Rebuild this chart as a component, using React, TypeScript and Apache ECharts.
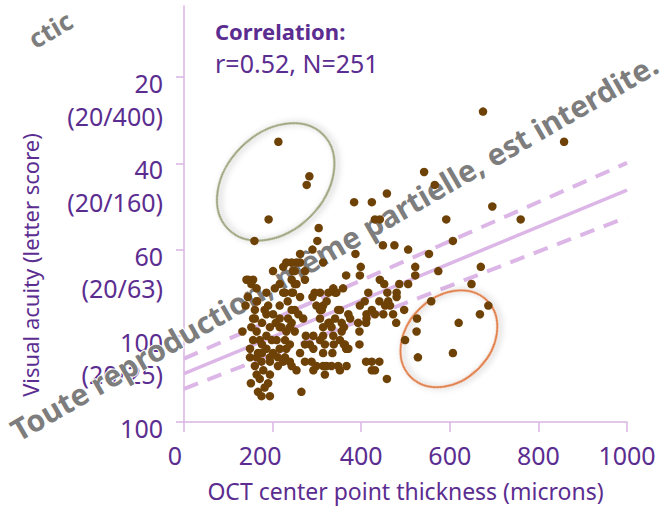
import { useEffect, useRef } from 'react';
import * as echarts from 'echarts';

// OCT center point thickness (microns), visual acuity (letter score)
const points: [number, number][] = [
  [213, 35], [283, 43], [277, 45], [191, 53], [159, 58],
  [384, 49], [424, 49], [431, 53], [442, 53], [304, 55], [301, 58], [290, 60], [262, 61], [387, 61],
  [675, 28], [542, 42], [566, 45], [458, 47], [592, 53], [607, 58], [449, 59], [475, 59], [506, 60],
  [696, 50], [858, 35], [760, 53], [553, 61], [399, 64], [366, 66], [397, 66], [522, 64], [522, 66],
  [574, 65], [670, 64], [649, 68], [442, 67], [486, 68], [506, 68], [452, 68], [459, 70], [416, 70],
  [480, 70], [480, 71], [441, 72], [461, 72], [465, 73], [397, 73], [408, 72], [424, 74], [352, 74],
  [371, 75], [375, 76], [450, 75], [454, 73], [472, 75], [497, 74], [479, 77], [411, 77], [337, 69],
  [359, 69], [341, 70], [329, 77], [356, 77], [361, 78], [396, 79], [337, 80], [338, 82], [361, 82],
  [366, 83], [396, 82], [335, 84], [411, 86], [424, 86], [441, 86], [424, 88], [352, 88], [367, 87],
  [458, 90], [333, 87],
  [558, 72], [526, 76], [525, 79], [499, 81], [620, 77], [668, 75], [687, 73], [528, 85], [607, 84],
  [314, 63], [254, 63], [262, 63], [201, 65], [224, 64], [243, 63], [250, 65], [273, 65], [243, 67],
  [250, 68], [273, 67], [205, 69], [224, 70], [243, 70], [186, 70], [156, 67], [145, 67], [164, 72],
  [160, 74], [156, 76], [182, 74], [186, 75], [216, 76], [132, 79], [152, 78], [164, 79], [156, 81],
  [171, 81], [186, 80], [198, 81], [209, 81], [216, 83], [231, 83], [239, 82], [220, 78], [231, 79],
  [149, 83], [167, 84], [186, 83], [201, 84], [212, 85], [228, 85], [239, 86], [224, 86], [194, 86],
  [175, 86], [164, 85], [160, 87], [179, 88], [164, 89], [194, 89], [190, 91], [171, 90], [167, 93],
  [194, 94], [254, 88], [243, 87], [265, 93], [288, 86], [292, 88], [314, 87], [318, 89], [348, 87],
  [431, 88], [367, 83], [412, 75], [412, 76], [431, 75], [393, 77], [348, 74], [341, 76], [344, 70],
  [326, 70], [307, 70], [295, 70], [290, 71], [299, 73], [307, 74], [322, 72], [314, 73], [356, 79],
  [352, 81], [363, 82], [371, 83], [326, 77], [314, 78], [292, 80], [307, 81], [318, 82], [275, 80],
  [273, 82], [284, 82], [258, 75], [269, 76], [235, 76], [243, 77], [250, 74], [243, 74], [250, 79],
  [216, 73], [141, 67], [152, 68], [165, 72], [190, 73], [160, 76], [175, 94], [231, 63], [246, 65],
  [254, 68], [216, 68], [228, 70], [246, 70], [216, 78], [311, 74], [307, 76], [333, 78], [314, 80],
  [292, 83], [314, 84], [322, 87], [299, 87], [176, 77], [194, 78], [207, 77], [239, 78], [176, 82],
  [194, 85], [212, 87], [149, 85], [176, 84], [228, 81], [201, 75], [144, 71], [139, 73], [182, 92],
  [151, 91], [262, 84], [273, 86], [262, 71], [234, 72], [164, 69],
];

const xTicks = [0, 200, 400, 600, 800, 1000];
const yTickValues = [20, 40, 60, 80, 100];
const yTickScores = ['20', '40', '60', '100', '100'];
const yTickSnellen = ['(20/400)', '(20/160)', '(20/63)', '(20/25)', ''];

const fitLine: [number, number][] = [[0, 88.8], [1000, 46.2]];
const ciUpper: [number, number][] = [[0, 85.3], [1000, 39.9]];
const ciLower: [number, number][] = [[0, 92.3], [1000, 52.5]];

const correlationTitle = 'Correlation:';
const correlationText = 'r=0.52, N=251';
const xAxisTitle = 'OCT center point thickness (microns)';
const yAxisTitle = 'Visual acuity (letter score)';
const watermark = 'Toute reproduction, même partielle, est interdite.';
const watermarkTop = 'ctic';

const outlierHighCenter: [number, number] = [207, 44.3];
const outlierLowCenter: [number, number] = [598, 80.7];

const PURPLE = '#5b2d90';
const AXIS = '#d9b5e3';
const LINE = '#dcb6e6';
const DOT = '#6e4206';
const GREY = '#7d7d7d';
const FONT = '"Noto Sans", sans-serif';

export default function App() {
  const ref = useRef<HTMLDivElement>(null);
  useEffect(() => {
    document.body.style.margin = '0';
    const chart = echarts.init(ref.current!, null, { renderer: 'svg' });
    chart.setOption({
      animation: false,
      backgroundColor: '#ffffff',
      grid: { left: 184, top: 6, right: 43, bottom: 84 },
      xAxis: {
        type: 'value',
        min: xTicks[0],
        max: xTicks[xTicks.length - 1],
        interval: 200,
        name: xAxisTitle,
        nameLocation: 'middle',
        nameGap: 57,
        nameTextStyle: { color: PURPLE, fontSize: 23, fontFamily: FONT },
        axisLine: { lineStyle: { color: AXIS, width: 1.5 } },
        axisTick: { show: true, length: 10, inside: false, lineStyle: { color: AXIS, width: 1.5 } },
        splitLine: { show: false },
        axisLabel: {
          color: PURPLE,
          fontSize: 25,
          fontFamily: FONT,
          margin: 20,
          formatter: (v: number) => (v === 0 ? '{a|0}' : v === 200 ? '{b|200}' : '{c|' + v + '}'),
          rich: {
            a: { color: PURPLE, fontSize: 25, fontFamily: FONT, padding: [0, 18, 0, 0] },
            b: { color: PURPLE, fontSize: 25, fontFamily: FONT, padding: [0, 25, 0, 0] },
            c: { color: PURPLE, fontSize: 25, fontFamily: FONT },
          },
        },
      },
      yAxis: {
        type: 'value',
        inverse: true,
        min: 3.5,
        max: 100,
        axisLine: { show: true, lineStyle: { color: AXIS, width: 1.5 } },
        axisTick: { show: true, length: 8, customValues: yTickValues, lineStyle: { color: AXIS, width: 1.5 } },
        splitLine: { show: false },
        axisLabel: {
          customValues: yTickValues,
          color: PURPLE,
          fontSize: 25,
          fontFamily: FONT,
          margin: 21,
          verticalAlign: 'top',
          align: 'right',
          formatter: (v: number) => {
            const i = yTickValues.indexOf(v);
            if (i < 0) return '';
            return yTickSnellen[i]
              ? '{v|' + yTickScores[i] + '}\n{s|' + yTickSnellen[i] + '}'
              : '{v|' + yTickScores[i] + '}';
          },
          rich: {
            v: { color: PURPLE, fontSize: 25, fontFamily: FONT, lineHeight: 12, align: 'right' },
            s: { color: PURPLE, fontSize: 25, fontFamily: FONT, lineHeight: 53, align: 'right' },
          },
        },
      },
      series: [
        {
          type: 'custom',
          coordinateSystem: 'none',
          data: [0],
          silent: true,
          z: 1,
          renderItem: () => ({
            type: 'group',
            children: [
              {
                type: 'text',
                x: 334,
                y: 247,
                rotation: Math.PI / 6,
                style: {
                  text: watermark,
                  fill: GREY,
                  stroke: '#ffffff',
                  lineWidth: 2,
                  font: 'bold 30px "Noto Sans", sans-serif',
                  align: 'center',
                  verticalAlign: 'middle',
                },
              },
              {
                type: 'text',
                x: 70,
                y: 18,
                rotation: Math.PI / 6,
                style: {
                  text: watermarkTop,
                  fill: GREY,
                  font: 'bold 26px "Noto Sans", sans-serif',
                  align: 'right',
                  verticalAlign: 'middle',
                },
              },
            ],
          }),
        },
        {
          type: 'line',
          data: ciUpper,
          symbol: 'none',
          lineStyle: { color: LINE, width: 4, type: [15, 10] },
          z: 5,
        },
        {
          type: 'line',
          data: ciLower,
          symbol: 'none',
          lineStyle: { color: LINE, width: 4, type: [15, 10] },
          z: 5,
        },
        {
          type: 'line',
          data: fitLine,
          symbol: 'none',
          lineStyle: { color: LINE, width: 3.5 },
          z: 5,
        },
        {
          type: 'scatter',
          data: points,
          symbol: 'circle',
          symbolSize: 8.5,
          itemStyle: { color: DOT, opacity: 1 },
          z: 10,
        },
      ],
    });

    const hi = chart.convertToPixel({ gridIndex: 0 }, outlierHighCenter) as number[];
    const lo = chart.convertToPixel({ gridIndex: 0 }, outlierLowCenter) as number[];
    const shadow = { shadowBlur: 6, shadowColor: 'rgba(0,0,0,0.3)', shadowOffsetX: 2, shadowOffsetY: 2 };

    chart.setOption({
      graphic: [
        {
          type: 'ellipse',
          x: hi[0],
          y: hi[1],
          rotation: Math.PI / 4,
          z: 6,
          shape: { cx: 0, cy: 0, rx: 67, ry: 49 },
          style: { fill: 'none', stroke: '#9ea47e', lineWidth: 2, ...shadow },
        },
        {
          type: 'ellipse',
          x: lo[0],
          y: lo[1],
          rotation: Math.PI / 4,
          z: 6,
          shape: { cx: 0, cy: 0, rx: 54, ry: 42 },
          style: { fill: 'none', stroke: '#e07c46', lineWidth: 2, ...shadow },
        },
        {
          type: 'text',
          x: 215,
          y: 31,
          z: 20,
          style: {
            text: correlationTitle,
            fill: PURPLE,
            font: 'bold 22px "Noto Sans", sans-serif',
            textVerticalAlign: 'middle',
          },
        },
        {
          type: 'text',
          x: 215,
          y: 63,
          z: 20,
          style: {
            text: correlationText,
            fill: PURPLE,
            font: '25px "Noto Sans", sans-serif',
            textVerticalAlign: 'middle',
          },
        },
        {
          type: 'text',
          x: 30,
          y: 265,
          rotation: Math.PI / 2,
          z: 20,
          style: {
            text: yAxisTitle,
            fill: PURPLE,
            font: '22px "Noto Sans", sans-serif',
            textAlign: 'center',
            textVerticalAlign: 'middle',
          },
        },
      ],
    });

    return () => chart.dispose();
  }, []);
  return <div ref={ref} style={{ width: 670, height: 507 }} />;
}
